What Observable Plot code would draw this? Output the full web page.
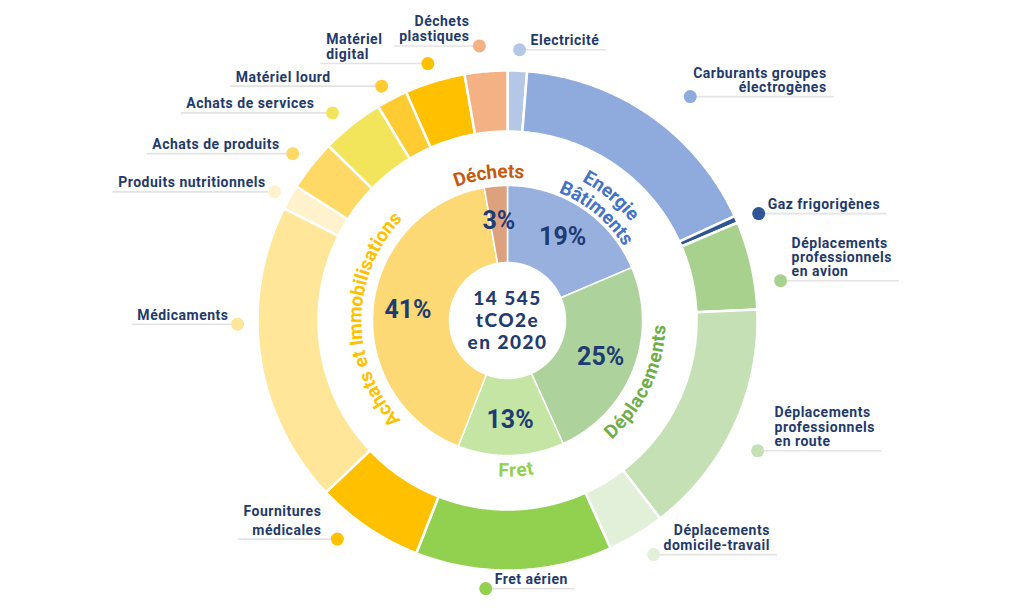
<!DOCTYPE html>
<html><head><meta charset="utf-8">
<script src="https://cdn.jsdelivr.net/npm/d3@7"></script>
<script src="https://cdn.jsdelivr.net/npm/@observablehq/plot@0.6"></script>
<style>
html,body{margin:0;padding:0;background:#fff;}
#chart svg{display:block;}
</style>
</head><body><div id="chart"></div>
<script>
// ---------------- DATA ----------------
const groupNames = ["Energie Bâtiments", "Déplacements", "Fret", "Achats et Immobilisations", "Déchets"];
const groupLabelLines = [["Energie", "Bâtiments"], ["Déplacements"], ["Fret"], ["Achats et Immobilisations"], ["Déchets"]];
const groupFill = ["#97B0DE", "#AED29B", "#C4E5A4", "#FDD976", "#DDA27D"];
const groupInk = ["#4472C4", "#70AD47", "#92D050", "#FFC000", "#C55A11"];

const postNames = [
  "Electricité", "Carburants groupes électrogènes", "Gaz frigorigènes",
  "Déplacements professionnels en avion", "Déplacements professionnels en route", "Déplacements domicile-travail",
  "Fret aérien",
  "Fournitures médicales", "Médicaments", "Produits nutritionnels", "Achats de produits", "Achats de services", "Matériel lourd", "Matériel digital",
  "Déchets plastiques"
];
const postGroup = [
  "Energie Bâtiments", "Energie Bâtiments", "Energie Bâtiments",
  "Déplacements", "Déplacements", "Déplacements",
  "Fret",
  "Achats et Immobilisations", "Achats et Immobilisations", "Achats et Immobilisations", "Achats et Immobilisations", "Achats et Immobilisations", "Achats et Immobilisations", "Achats et Immobilisations",
  "Déchets"
];
// tCO2e
const postValues = [182, 2458, 65, 829, 2218, 538, 1847, 1018, 2830, 233, 480, 589, 291, 567, 400];
const postFill = ["#B4C7E7", "#8FAADC", "#2F5597", "#A9D18E", "#C5E0B4", "#E2F0D9", "#92D050",
  "#FFC000", "#FFE699", "#FFF2CC", "#FFD966", "#F2E55C", "#FFCB33", "#FFC000", "#F4B183"];
const postLabelLines = [
  ["Electricité"], ["Carburants groupes", "électrogènes"], ["Gaz frigorigènes"],
  ["Déplacements", "professionnels", "en avion"], ["Déplacements", "professionnels", "en route"], ["Déplacements", "domicile-travail"],
  ["Fret aérien"],
  ["Fournitures", "médicales"], ["Médicaments"], ["Produits nutritionnels"], ["Achats de produits"], ["Achats de services"], ["Matériel lourd"], ["Matériel", "digital"],
  ["Déchets", "plastiques"]
];
const centerLines = ["14 545", "tCO2e", "en 2020"];

// ---------------- LAYOUT ----------------
const W = 1024, H = 614;
const cx = 507, cy = 320;
const R_HOLE = 58, R_IN = 135, R_OUT0 = 189, R_OUT1 = 250;
const NAVY = "#1F3A6B";
const LABEL_FONT = "Roboto", LABEL_SIZE = 14, LABEL_LS = 0.5;
const CAT_SIZE = 19;
const CENTER_SIZE = 19;
// callout layout: angular nudge (deg), dot radius, side (+1 text right of dot / -1 left), gap, text alignment, line height
const callout = [
  {nudge: 0.3, r: 271, side: 1, gap: 11, align: "start", lh: 14},
  {nudge: 4.3, r: 289, side: 1, gap: 3, align: "end", lh: 14},
  {nudge: 0.8, r: 273, side: 1, gap: 9, align: "start", lh: 14},
  {nudge: 4.5, r: 276, side: 1, gap: 11, align: "start", lh: 14},
  {nudge: 2.6, r: 282, side: 1, gap: 17, align: "start", lh: 14.5},
  {nudge: -1, r: 276, side: 1, gap: 10, align: "end", lh: 15},
  {nudge: 6.1, r: 269, side: 1, gap: 9, align: "start", lh: 14},
  {nudge: 3.9, r: 277, side: -1, gap: 16, align: "end", lh: 19},
  {nudge: 7.6, r: 270, side: -1, gap: 9, align: "end", lh: 14},
  {nudge: -0.6, r: 266, side: -1, gap: 9, align: "end", lh: 14},
  {nudge: -0.5, r: 272, side: -1, gap: 13, align: "end", lh: 14},
  {nudge: -1.7, r: 271.5, side: -1, gap: 18, align: "end", lh: 14},
  {nudge: -0.7, r: 266, side: -1, gap: 51, align: "end", lh: 14},
  {nudge: -0.3, r: 269, side: -1, gap: 46, align: "start", lh: 15.5},
  {nudge: -0.9, r: 276, side: -1, gap: 10, align: "end", lh: 15.5}
];
// category (curved) label placement: angular nudge from group mid angle, glyph-centre radii
const catNudge = [6.5, 3.7, -2, -5, -2];
const catRadii = [[164, 144], [152], [150], [152], [149]];

// ---------------- GEOMETRY ----------------
const total = d3.sum(postValues);
const angle = d3.scaleLinear().domain([0, total]).range([0, 360]);
function polar(r, deg) {
  const a = deg * Math.PI / 180;
  return [cx + r * Math.sin(a), cy - r * Math.cos(a)];
}
function arcPolygon(id, a0, a1, r0, r1, color) {
  const pts = [];
  const n = Math.max(2, Math.ceil((a1 - a0) / 0.5));
  for (let i = 0; i <= n; i++) { const a = a0 + (a1 - a0) * i / n; const [x, y] = polar(r1, a); pts.push({id, x, y, color}); }
  for (let i = n; i >= 0; i--) { const a = a0 + (a1 - a0) * i / n; const [x, y] = polar(r0, a); pts.push({id, x, y, color}); }
  pts.push({...pts[0]});
  return pts;
}

// outer ring (posts)
const posts = [];
let acc = 0;
postValues.forEach((v, i) => {
  posts.push({i, name: postNames[i], a0: angle(acc), a1: angle(acc + v), color: postFill[i]});
  acc += v;
});
const outerPts = posts.flatMap(p => arcPolygon("o" + p.i, p.a0, p.a1, R_OUT0, R_OUT1, p.color));

// inner ring (groups)
const groupSums = groupNames.map(g => d3.sum(postValues.filter((v, i) => postGroup[i] === g)));
const groups = [];
acc = 0;
groupSums.forEach((v, i) => {
  groups.push({i, name: groupNames[i], value: v, a0: angle(acc), a1: angle(acc + v), color: groupFill[i]});
  acc += v;
});
const innerPts = groups.flatMap(g => arcPolygon("g" + g.i, g.a0, g.a1, R_HOLE, R_IN, g.color));

// percentages
const pctLabels = groups.map(g => {
  const mid = (g.a0 + g.a1) / 2;
  const [x, y] = polar(100, mid);
  return {x, y, text: Math.round(g.value / total * 100) + "%"};
});

// curved category labels, one glyph per datum
const ctx = document.createElement("canvas").getContext("2d");
function widths(str, font, ls) { ctx.font = font; return [...str].map(ch => ctx.measureText(ch).width + ls); }
const catChars = [];
groups.forEach((g, gi) => {
  const centerDeg = (g.a0 + g.a1) / 2 + catNudge[gi];
  const m = ((centerDeg % 360) + 360) % 360;
  const bottom = m > 90 && m < 270;
  groupLabelLines[gi].forEach((line, li) => {
    const r = catRadii[gi][li];
    const ls = 0.3;
    const ws = widths(line, `700 ${CAT_SIZE}px Roboto`, ls);
    const tot = d3.sum(ws) - ls;
    let run = 0;
    [...line].forEach((ch, k) => {
      const off = run + (ws[k] - ls) / 2 - tot / 2;
      run += ws[k];
      const d = off / r * 180 / Math.PI;
      const a = bottom ? centerDeg - d : centerDeg + d;
      const [x, y] = polar(r, a);
      catChars.push({ch, x, y, rotate: bottom ? a - 180 : a, color: groupInk[gi]});
    });
  });
});

// callouts
const dots = [], leaders = [], textStart = [], textEnd = [];
posts.forEach((p, i) => {
  const L = callout[i];
  const mid = (p.a0 + p.a1) / 2 + L.nudge;
  const [dx, dy] = polar(L.r, mid);
  dots.push({x: dx, y: dy, color: p.color});
  const lines = postLabelLines[i];
  const bw = d3.max(lines, s => d3.sum(widths(s, `700 ${LABEL_SIZE}px ${LABEL_FONT}`, LABEL_LS)) - LABEL_LS);
  const left = L.side > 0 ? dx + L.gap : dx - L.gap - bw;
  const right = left + bw;
  lines.forEach((s, k) => {
    const y = dy - 9 - (lines.length - 1 - k) * L.lh;
    if (L.align === "start") textStart.push({x: left, y, text: s});
    else textEnd.push({x: right, y, text: s});
  });
  if (L.side > 0) leaders.push({x1: dx, x2: right + 7, y: dy});
  else leaders.push({x1: left - 6, x2: dx, y: dy});
});

const centerText = centerLines.map((s, k) => ({x: cx, y: cy - 22 + k * 22, text: s}));

// ---------------- PLOT ----------------
const chart = Plot.plot({
  width: W, height: H,
  margin: 0,
  x: {domain: [0, W], range: [0, W], axis: null},
  y: {domain: [0, H], range: [0, H], axis: null},
  color: {type: "identity"},
  style: {background: "#fff"},
  marks: [
    Plot.line(outerPts, {x: "x", y: "y", z: "id", fill: "color", stroke: "white", strokeWidth: 2.5, curve: "linear"}),
    Plot.line(innerPts, {x: "x", y: "y", z: "id", fill: "color", stroke: "white", strokeWidth: 1.5, curve: "linear"}),
    Plot.link(leaders, {x1: "x1", x2: "x2", y1: "y", y2: "y", stroke: "#E3E3E3", strokeWidth: 1.6}),
    Plot.dot(dots, {x: "x", y: "y", r: 6.5, fill: "color", stroke: null}),
    Plot.text(textStart, {x: "x", y: "y", text: "text", textAnchor: "start", fill: NAVY, fontFamily: LABEL_FONT, fontWeight: 700, fontSize: LABEL_SIZE}),
    Plot.text(textEnd, {x: "x", y: "y", text: "text", textAnchor: "end", fill: NAVY, fontFamily: LABEL_FONT, fontWeight: 700, fontSize: LABEL_SIZE}),
    Plot.text(catChars, {x: "x", y: "y", text: "ch", rotate: "rotate", fill: "color", fontFamily: "Roboto", fontWeight: 700, fontSize: CAT_SIZE}),
    Plot.text(pctLabels, {x: "x", y: "y", text: "text", fill: "#1F3B73", fontFamily: "Roboto", fontWeight: 700, fontSize: 25}),
    Plot.text(centerText, {x: "x", y: "y", text: "text", fill: "#233B6E", fontFamily: "Lato", fontWeight: 900, fontSize: CENTER_SIZE})
  ]
});
d3.select(chart).selectAll(`g[font-size="${LABEL_SIZE}"]`).attr("letter-spacing", LABEL_LS);
d3.select(chart).selectAll(`g[font-size="${CENTER_SIZE}"]`).attr("letter-spacing", 1.5);
document.getElementById("chart").appendChild(chart);
</script>
</body></html>
